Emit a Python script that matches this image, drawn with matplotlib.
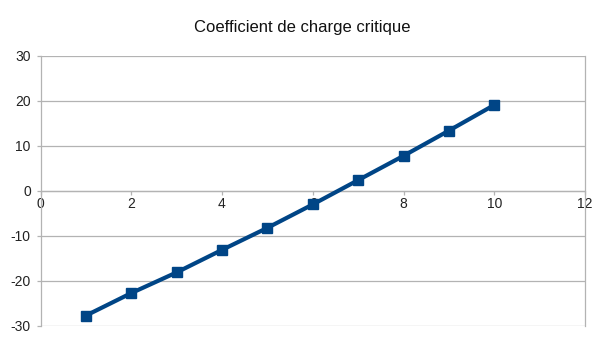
import matplotlib
matplotlib.use("Agg")
import matplotlib.pyplot as plt

plt.rcParams['font.family'] = ['Liberation Sans', 'DejaVu Sans']
plt.rcParams['axes.unicode_minus'] = False

x_vals = [1, 2, 3, 4, 5, 6, 7, 8, 9, 10]
y_vals = [-27.8, -22.8, -18.2, -13.2, -8.3, -3.1, 2.3, 7.7, 13.3, 19.0]
x_ticks = [0, 2, 4, 6, 8, 10, 12]
y_ticks = [-30, -20, -10, 0, 10, 20, 30]
title = "Coefficient de charge critique"

grid_col = "#b3b3b3"
line_col = "#004586"

fig = plt.figure(figsize=(6.05, 3.4), dpi=100)
ax = fig.add_axes([40.5 / 605, 14.5 / 340, 544.5 / 605, 270 / 340])

ax.plot(x_vals, y_vals, color=line_col, lw=3, marker="s", ms=7.5,
        markeredgecolor=line_col, zorder=3, clip_on=False)

ax.set_xlim(0, 12)
ax.set_ylim(-30, 30)
ax.set_xticks(x_ticks)
ax.set_yticks(y_ticks)
ax.yaxis.grid(True, color=grid_col, lw=0.9)
ax.set_axisbelow(True)

# x axis crosses at y=0, y axis at x=0
ax.spines['bottom'].set_position(('data', 0))
ax.spines['left'].set_position(('data', 0))
ax.spines['top'].set_visible(False)
for s in ['bottom', 'left', 'right']:
    ax.spines[s].set_color(grid_col)
    ax.spines[s].set_linewidth(0.9)

ax.tick_params(axis='both', colors=grid_col, labelcolor="#222222",
               labelsize=10, length=3, width=0.9, direction='out')
ax.tick_params(axis='x', pad=2)
ax.tick_params(axis='y', pad=4)

fig.suptitle(title, y=0.94, fontsize=12, color="#111111")

fig.savefig("out.png", dpi=100)
